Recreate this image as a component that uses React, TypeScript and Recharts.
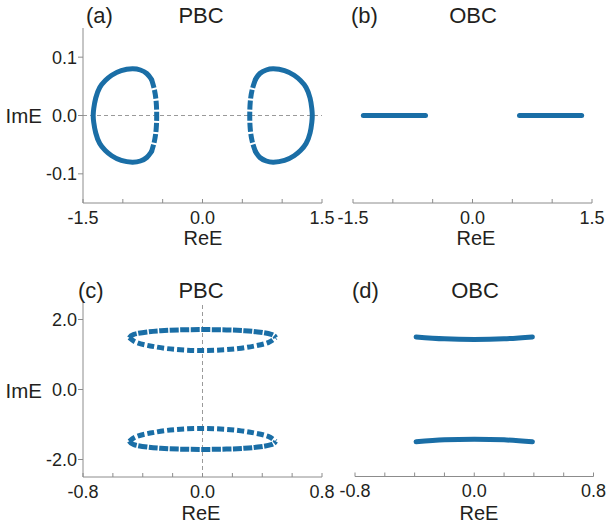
import { ComposedChart, Line, XAxis, YAxis, ReferenceLine } from 'recharts';

// ---- data ----
// (a) PBC, two loops; outer part solid, inner side dashed
const aLeftOuter = [
  [-0.64, 0.062], [-0.7, 0.072], [-0.78, 0.078], [-0.88, 0.08], [-1.02, 0.077],
  [-1.14, 0.069], [-1.22, 0.06], [-1.29, 0.048], [-1.34, 0.03], [-1.365, 0.012],
  [-1.372, 0], [-1.365, -0.012], [-1.34, -0.03], [-1.29, -0.048], [-1.22, -0.06],
  [-1.14, -0.069], [-1.02, -0.077], [-0.88, -0.08], [-0.78, -0.078], [-0.7, -0.072],
  [-0.64, -0.062],
];
const aLeftInner = [
  [-0.64, 0.062], [-0.605, 0.045], [-0.582, 0.024], [-0.575, 0],
  [-0.582, -0.024], [-0.605, -0.045], [-0.64, -0.062],
];
const aRightOuter = [
  [0.665, 0.062], [0.72, 0.072], [0.8, 0.078], [0.89, 0.08], [1.03, 0.077],
  [1.15, 0.069], [1.23, 0.06], [1.3, 0.048], [1.35, 0.03], [1.372, 0.012],
  [1.378, 0], [1.372, -0.012], [1.35, -0.03], [1.3, -0.048], [1.23, -0.06],
  [1.15, -0.069], [1.03, -0.077], [0.89, -0.08], [0.8, -0.078], [0.72, -0.072],
  [0.665, -0.062],
];
const aRightInner = [
  [0.665, 0.062], [0.625, 0.045], [0.6, 0.024], [0.593, 0],
  [0.6, -0.024], [0.625, -0.045], [0.665, -0.062],
];

// (b) OBC, two segments on the real axis
const bLeft = [[-1.37, 0], [-0.59, 0]];
const bRight = [[0.59, 0], [1.37, 0]];

// (c) PBC, two flat ellipses
const cUpperOuter = [
  [-0.49, 1.48], [-0.46, 1.575], [-0.37, 1.645], [-0.28, 1.68], [-0.16, 1.703], [0, 1.712],
  [0.16, 1.703], [0.28, 1.68], [0.37, 1.645], [0.46, 1.575], [0.49, 1.48],
];
const cUpperInner = [
  [-0.49, 1.48], [-0.44, 1.34], [-0.35, 1.245], [-0.24, 1.17], [-0.12, 1.128], [0, 1.114],
  [0.12, 1.128], [0.24, 1.17], [0.35, 1.245], [0.44, 1.34], [0.49, 1.48],
];
const cLowerOuter = [
  [-0.49, -1.48], [-0.46, -1.575], [-0.37, -1.645], [-0.28, -1.68], [-0.16, -1.703], [0, -1.712],
  [0.16, -1.703], [0.28, -1.68], [0.37, -1.645], [0.46, -1.575], [0.49, -1.48],
];
const cLowerInner = [
  [-0.49, -1.48], [-0.44, -1.34], [-0.35, -1.245], [-0.24, -1.17], [-0.12, -1.128], [0, -1.114],
  [0.12, -1.128], [0.24, -1.17], [0.35, -1.245], [0.44, -1.34], [0.49, -1.48],
];

// (d) OBC, two shallow arcs
const dUpper = [[-0.39, 1.5], [-0.2, 1.445], [0, 1.425], [0.2, 1.445], [0.39, 1.5]];
const dLower = [[-0.39, -1.505], [-0.2, -1.45], [0, -1.432], [0.2, -1.45], [0.39, -1.505]];

// ticks
const abXTicks = [-1.5, -1, -0.5, 0, 0.5, 1, 1.5];
const abXLabels = [-1.5, 0, 1.5];
const abYTicks = [-0.1, -0.05, 0, 0.05, 0.1];
const abYLabels = [-0.1, 0, 0.1];
const cdXTicks = [-0.8, -0.6, -0.4, -0.2, 0, 0.2, 0.4, 0.6, 0.8];
const cdXLabels = [-0.8, 0, 0.8];
const cdYTicks = [-2, -1, 0, 1, 2];
const cdYLabels = [-2, 0, 2];

const W = 611;
const H = 525;
const BLUE = '#1a6ea6';
const AXIS = '#8c8c8c';
const TEXT = '#231f20';
const FONT = '"Liberation Sans", Arial, sans-serif';

const toPts = (a: number[][]) => a.map(([x, y]) => ({ x, y }));
const fmt = (labels: number[]) => (v: number) =>
  labels.some((l) => Math.abs(l - v) < 1e-9) ? v.toFixed(1) : '';

interface Series {
  data: number[][];
  dash?: string;
}

interface PanelProps {
  box: { left: number; top: number; right: number; bottom: number };
  xDomain: [number, number];
  xTicks: number[];
  xLabels: number[];
  yDomain: [number, number];
  yTicks: number[];
  yLabels?: number[];
  refX?: boolean;
  refY?: boolean;
  series: Series[];
}

function Panel({ box, xDomain, xTicks, xLabels, yDomain, yTicks, yLabels, refX, refY, series }: PanelProps) {
  const margin = {
    left: yLabels ? box.left - 60 : box.left,
    right: W - box.right,
    top: box.top,
    bottom: H - box.bottom - 30,
  };
  return (
    <div style={{ position: 'absolute', left: 0, top: 0 }}>
      <ComposedChart width={W} height={H} margin={margin}>
        <XAxis
          xAxisId="b"
          type="number"
          dataKey="x"
          domain={xDomain}
          ticks={xTicks}
          interval={0}
          allowDataOverflow
          tickFormatter={fmt(xLabels)}
          tickSize={-4}
          tickMargin={12}
          height={30}
          stroke={AXIS}
          tick={{ fill: TEXT, fontSize: 18 }}
        />
        <XAxis
          xAxisId="t"
          orientation="top"
          type="number"
          dataKey="x"
          domain={xDomain}
          ticks={xTicks}
          interval={0}
          allowDataOverflow
          mirror
          height={0}
          tick={false}
          tickSize={4}
          stroke={AXIS}
        />
        {yLabels ? (
          <YAxis
            yAxisId="l"
            type="number"
            domain={yDomain}
            ticks={yLabels}
            interval={0}
            allowDataOverflow
            width={60}
            tickSize={5}
            tickMargin={1}
            tickFormatter={fmt(yLabels)}
            stroke={AXIS}
            tick={{ fill: TEXT, fontSize: 18 }}
          />
        ) : (
          <YAxis
            yAxisId="l"
            type="number"
            domain={yDomain}
            ticks={yTicks}
            interval={0}
            allowDataOverflow
            mirror
            width={0}
            tick={false}
            tickSize={4}
            stroke={AXIS}
          />
        )}
        <YAxis
          yAxisId="r"
          orientation="right"
          type="number"
          domain={yDomain}
          ticks={yTicks}
          interval={0}
          allowDataOverflow
          mirror
          width={0}
          tick={false}
          tickSize={4}
          stroke={AXIS}
        />
        {refY && (
          <ReferenceLine xAxisId="b" yAxisId="l" y={0} stroke="#9a9a9a" strokeDasharray="4 3" />
        )}
        {refX && (
          <ReferenceLine xAxisId="b" yAxisId="l" x={0} stroke="#9a9a9a" strokeDasharray="4 3" />
        )}
        {series.map((s, i) => (
          <Line
            key={i}
            xAxisId="b"
            yAxisId="l"
            data={toPts(s.data)}
            dataKey="y"
            type="natural"
            stroke={BLUE}
            strokeWidth={5}
            strokeLinecap={s.dash ? 'butt' : 'round'}
            strokeDasharray={s.dash}
            dot={false}
            activeDot={false}
            isAnimationActive={false}
          />
        ))}
      </ComposedChart>
    </div>
  );
}

export default function App() {
  return (
    <div
      style={{
        position: 'absolute',
        left: 0,
        top: 0,
        width: W,
        height: H,
        background: '#fff',
        fontFamily: FONT,
      }}
    >
      <Panel
        box={{ left: 83, top: 28, right: 322, bottom: 203 }}
        xDomain={[-1.5, 1.5]}
        xTicks={abXTicks}
        xLabels={abXLabels}
        yDomain={[-0.15, 0.15]}
        yTicks={abYTicks}
        yLabels={abYLabels}
        refY
        series={[
          { data: aLeftOuter },
          { data: aLeftInner, dash: '9 2' },
          { data: aRightOuter },
          { data: aRightInner, dash: '9 2' },
        ]}
      />
      <Panel
        box={{ left: 353, top: 28, right: 592, bottom: 203 }}
        xDomain={[-1.5, 1.5]}
        xTicks={abXTicks}
        xLabels={abXLabels}
        yDomain={[-0.15, 0.15]}
        yTicks={abYTicks}
        series={[{ data: bLeft }, { data: bRight }]}
      />
      <Panel
        box={{ left: 83, top: 302, right: 322, bottom: 477 }}
        xDomain={[-0.8, 0.8]}
        xTicks={cdXTicks}
        xLabels={cdXLabels}
        yDomain={[-2.5, 2.5]}
        yTicks={cdYTicks}
        yLabels={cdYLabels}
        refX
        series={[
          { data: cUpperOuter, dash: '9 1.5' },
          { data: cUpperInner, dash: '7 3' },
          { data: cLowerOuter, dash: '9 1.5' },
          { data: cLowerInner, dash: '7 3' },
        ]}
      />
      <Panel
        box={{ left: 355, top: 302, right: 593.5, bottom: 476.5 }}
        xDomain={[-0.8, 0.8]}
        xTicks={cdXTicks}
        xLabels={cdXLabels}
        yDomain={[-2.5, 2.5]}
        yTicks={cdYTicks}
        series={[{ data: dUpper }, { data: dLower }]}
      />
      <svg
        width={W}
        height={H}
        style={{ position: 'absolute', left: 0, top: 0, pointerEvents: 'none' }}
        fontFamily={FONT}
        fill={TEXT}
      >
        <text x={86} y={22.5} fontSize={22}>(a)</text>
        <text x={201} y={22.5} fontSize={22} textAnchor="middle">PBC</text>
        <text x={351} y={22.5} fontSize={22}>(b)</text>
        <text x={473} y={22.5} fontSize={22} textAnchor="middle">OBC</text>
        <text x={78} y={298} fontSize={22}>(c)</text>
        <text x={201} y={298} fontSize={22} textAnchor="middle">PBC</text>
        <text x={352} y={298} fontSize={22}>(d)</text>
        <text x={475} y={298} fontSize={22} textAnchor="middle">OBC</text>
        <text x={203} y={245} fontSize={20} textAnchor="middle">ReE</text>
        <text x={476} y={245} fontSize={20} textAnchor="middle">ReE</text>
        <text x={201} y={520} fontSize={20} textAnchor="middle">ReE</text>
        <text x={479} y={520} fontSize={20} textAnchor="middle">ReE</text>
        <text x={5.5} y={122.5} fontSize={20.5}>ImE</text>
        <text x={5.5} y={397.5} fontSize={20.5}>ImE</text>
      </svg>
    </div>
  );
}
